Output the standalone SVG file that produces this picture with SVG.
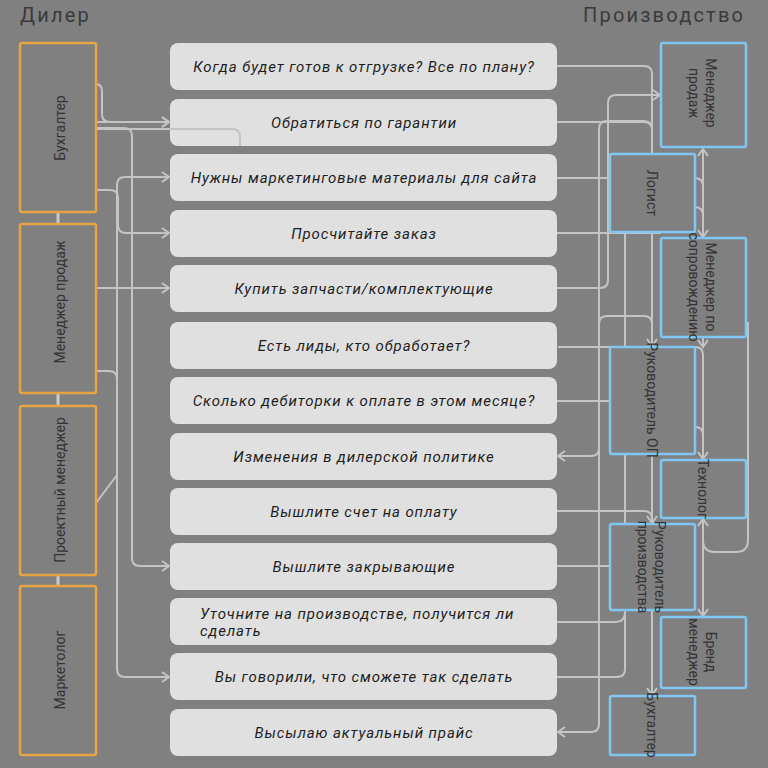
<svg xmlns="http://www.w3.org/2000/svg" width="768" height="768" viewBox="0 0 768 768">
<defs>
<marker id="ah" markerWidth="12" markerHeight="12" refX="9" refY="6" orient="auto-start-reverse" markerUnits="userSpaceOnUse">
<path d="M2,1 L9,6 L2,11" fill="none" stroke="#c4c4c4" stroke-width="2"/>
</marker>
<style>
.bg{fill:#808080}
.title{font-family:Roboto,"Liberation Sans",sans-serif;font-size:20px;fill:#3a3a3a;letter-spacing:2.2px}
.dn rect{fill:#808080;stroke:#e8a444;stroke-width:2.5}
.pn rect{fill:#808080;stroke:#80c6f2;stroke-width:2.5}
.q rect{fill:#e0e0e0}
.q text{font-family:Roboto,"Liberation Sans",sans-serif;font-style:italic;font-size:15px;letter-spacing:0.9px;fill:#1e1e1e;text-anchor:middle;dominant-baseline:central}
.nt{font-family:Roboto,"Liberation Sans",sans-serif;font-size:14px;fill:#333;text-anchor:middle;dominant-baseline:central}
.c path{fill:none;stroke:#c4c4c4;stroke-width:2}
.c .a{marker-end:url(#ah)}
.c .b{marker-start:url(#ah);marker-end:url(#ah)}
.c .k{stroke:#cacaca;stroke-width:3}
</style>
</defs>
<rect class="bg" x="0" y="0" width="768" height="768"/>
<text class="title" x="20" y="22">Дилер</text>
<text class="title" x="583" y="22">Производство</text>

<g id="q1" class="q"><rect x="170" y="43" width="387" height="47" rx="8"/><text x="364" y="66.5">Когда будет готов к отгрузке? Все по плану?</text></g>
<g id="q2" class="q"><rect x="170" y="99" width="387" height="47" rx="8"/><text x="364" y="122.5">Обратиться по гарантии</text></g>
<g id="q3" class="q"><rect x="170" y="154" width="387" height="47" rx="8"/><text x="364" y="177.5">Нужны маркетинговые материалы для сайта</text></g>
<g id="q4" class="q"><rect x="170" y="210" width="387" height="47" rx="8"/><text x="364" y="233.5">Просчитайте заказ</text></g>
<g id="q5" class="q"><rect x="170" y="265" width="387" height="47" rx="8"/><text x="364" y="288.5">Купить запчасти/комплектующие</text></g>
<g id="q6" class="q"><rect x="170" y="322" width="387" height="47" rx="8"/><text x="364" y="345.5">Есть лиды, кто обработает?</text></g>
<g id="q7" class="q"><rect x="170" y="377" width="387" height="47" rx="8"/><text x="364" y="400.5">Сколько дебиторки к оплате в этом месяце?</text></g>
<g id="q8" class="q"><rect x="170" y="433" width="387" height="47" rx="8"/><text x="364" y="456.5">Изменения в дилерской политике</text></g>
<g id="q9" class="q"><rect x="170" y="488" width="387" height="47" rx="8"/><text x="364" y="511.5">Вышлите счет на оплату</text></g>
<g id="q10" class="q"><rect x="170" y="543" width="387" height="47" rx="8"/><text x="364" y="566.5">Вышлите закрывающие</text></g>
<g id="q11" class="q"><rect x="170" y="598" width="387" height="47" rx="8"/><text x="200" y="614" style="text-anchor:start">Уточните на производстве, получится ли</text><text x="200" y="631" style="text-anchor:start">сделать</text></g>
<g id="q12" class="q"><rect x="170" y="653" width="387" height="47" rx="8"/><text x="364" y="676.5">Вы говорили, что сможете так сделать</text></g>
<g id="q13" class="q"><rect x="170" y="709" width="387" height="47" rx="8"/><text x="364" y="732.5">Высылаю актуальный прайс</text></g>

<g id="connectors" class="c">
<path class="k" d="M58,212 V224 M58,393 V406 M58,575 V586"/>
<path class="a" d="M96,84 Q102,84 102,92 V114 Q102,122 110,122 H169"/>
<path class="a" d="M96,122 H169"/>
<path d="M96,129 H232 Q240,129 240,137 V146"/>
<path class="a" d="M96,128 H124 Q132,128 132,136 V558 Q132,566 140,566 H169"/>
<path class="a" d="M96,190 H110 Q118,190 118,198 V225 Q118,233 126,233 H169"/>
<path class="a" d="M96,288 H169"/>
<path class="a" d="M96,371 H109 Q117,371 117,379 V669 Q117,677 125,677 H169"/>
<path class="a" d="M96,503 L117,475 V185 Q117,177 125,177 H169"/>

<path class="a" d="M557,66 H644 Q652,66 652,74 V346"/>
<path d="M557,122 H644 Q652,122 652,130"/>
<path class="a" d="M557,288 H600 Q608,288 608,280 V103 Q608,95 616,95 H660"/>
<path class="a" d="M652,130 Q652,121 644,121 H607 Q599,121 599,129 V448 Q599,456 591,456 H558"/>
<path class="a" d="M599,440 V724 Q599,732 591,732 H558"/>
<path d="M599,324 Q599,316 607,316 H644 Q652,316 652,324"/>
<path d="M557,178 H610"/>
<path d="M557,233 H661"/>
<path d="M557,401 H610"/>
<path d="M557,566 H610"/>
<path d="M625,232 V347 M625,454 V524"/>
<path d="M625,610 V669 Q625,677 617,677 H557"/>
<path d="M625,612 Q625,622 615,622 H557"/>
<path class="a" d="M703,337 V347"/>
<path class="a" d="M558,347 H695 Q703,347 703,355 V459"/>
<path d="M695,427 Q703,427 703,435"/>
<path class="a" d="M652,454 V523"/>
<path d="M557,511 H644 Q652,511 652,519"/>
<path class="a" d="M652,610 V695"/>
<path class="b" d="M703,149 V237"/>
<path d="M695,178 Q703,178 703,187 M695,207 Q703,207 703,216"/>
<path class="b" d="M703,519 V616"/>
<path d="M748,322 V540 Q748,552 736,552 H715 Q703,552 703,540"/>
</g>

<g id="d1" class="dn"><rect x="20" y="43" width="76" height="169" rx="2"/><text class="nt" transform="translate(60,128) rotate(-90)">Бухгалтер</text></g>
<g id="d2" class="dn"><rect x="20" y="224" width="76" height="169" rx="2"/><text class="nt" transform="translate(60,302) rotate(-90)">Менеджер продаж</text></g>
<g id="d3" class="dn"><rect x="20" y="406" width="76" height="169" rx="2"/><text class="nt" transform="translate(60,490) rotate(-90)">Проектный менеджер</text></g>
<g id="d4" class="dn"><rect x="20" y="586" width="76" height="169" rx="2"/><text class="nt" transform="translate(60,670) rotate(-90)">Маркетолог</text></g>

<g id="p1" class="pn"><rect x="661" y="43" width="85" height="104" rx="2"/><text class="nt" transform="translate(703,93) rotate(90)"><tspan x="0" y="-8">Менеджер</tspan><tspan x="0" y="9">продаж</tspan></text></g>
<g id="p2" class="pn"><rect x="610" y="154" width="85" height="78" rx="2"/><text class="nt" transform="translate(652,193) rotate(90)">Логист</text></g>
<g id="p3" class="pn"><rect x="661" y="238" width="85" height="99" rx="2"/><text class="nt" transform="translate(703,287) rotate(90)"><tspan x="0" y="-8">Менеджер по</tspan><tspan x="0" y="9">сопровождению</tspan></text></g>
<g id="p4" class="pn"><rect x="610" y="347" width="85" height="107" rx="2"/><text class="nt" transform="translate(652,400) rotate(90)">Руководитель ОП</text></g>
<g id="p5" class="pn"><rect x="661" y="460" width="85" height="58" rx="2"/><text class="nt" transform="translate(703,489) rotate(90)">Технолог</text></g>
<g id="p6" class="pn"><rect x="610" y="524" width="85" height="86" rx="2"/><text class="nt" transform="translate(652,567) rotate(90)"><tspan x="0" y="-8">Руководитель</tspan><tspan x="0" y="9">производства</tspan></text></g>
<g id="p7" class="pn"><rect x="661" y="617" width="85" height="71" rx="2"/><text class="nt" transform="translate(703,652) rotate(90)"><tspan x="0" y="-8">Бренд</tspan><tspan x="0" y="9">менеджер</tspan></text></g>
<g id="p8" class="pn"><rect x="610" y="696" width="85" height="59" rx="2"/><text class="nt" transform="translate(652,725) rotate(90)">Бухгалтер</text></g>
</svg>
